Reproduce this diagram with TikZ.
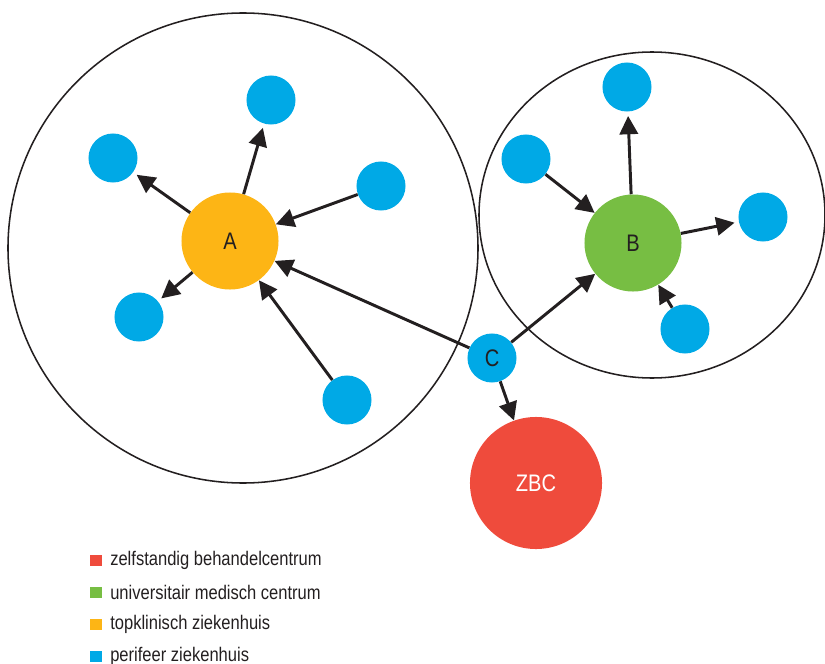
\documentclass[tikz,border=0pt]{standalone}
\usepackage{fontspec}
\setmainfont{Liberation Sans}[FakeStretch=0.84]
\usetikzlibrary{arrows.meta}
\definecolor{zbcred}{HTML}{EF4B3C}
\definecolor{umcgreen}{HTML}{77BE43}
\definecolor{toporange}{HTML}{FDB515}
\definecolor{periblue}{HTML}{00A9E6}
\definecolor{inkblack}{HTML}{231F20}

\begin{document}
\begin{tikzpicture}[x=0.025cm, y=-0.025cm,
    hosp/.style={circle, inner sep=0pt, text=inkblack, font=\fontsize{17}{20}\selectfont},
    peri/.style={hosp, fill=periblue, minimum size=1.225cm},
    topk/.style={hosp, fill=toporange, minimum size=2.425cm},
    umc/.style={hosp, fill=umcgreen, minimum size=2.425cm},
    zbc/.style={hosp, fill=zbcred, minimum size=3.3cm, text=white},
    region/.style={draw=inkblack, line width=1.1pt},
    link/.style={draw=inkblack, line width=2.1pt, -{Triangle[length=13pt,width=13pt]}},
    toperi/.style={link, shorten >=3pt},
    legkey/.style={rectangle, inner sep=0pt, minimum size=0.275cm},
    legtext/.style={anchor=west, inner sep=0pt, text=inkblack, font=\fontsize{14}{16}\selectfont}
  ]
  \useasboundingbox (0,0) rectangle (825,664);
  % regions
  \draw[region] (243,248) circle [radius=235];
  \draw[region] (652,215) ellipse [x radius=173, y radius=163];

  % hospitals
  \node[topk] (A) at (230,241) {A};
  \node[umc] (B) at (633,243) {B};
  \node[peri] (C) at (492,358) {C};
  \node[zbc] (Z) at (536,483) {ZBC};

  \node[peri] (a1) at (113,158) {};
  \node[peri] (a2) at (271,100) {};
  \node[peri] (a3) at (381,186) {};
  \node[peri] (a4) at (139,317) {};
  \node[peri] (a5) at (347,400) {};

  \node[peri] (b1) at (627,87) {};
  \node[peri] (b2) at (526,159) {};
  \node[peri] (b3) at (763,217) {};
  \node[peri] (b4) at (685,329) {};

  % referrals
  \draw[toperi] (A) -- (a1);
  \draw[toperi] (A) -- (a2);
  \draw[link] (a3) -- (A);
  \draw[toperi] (A) -- (a4);
  \draw[link] (a5) -- (A);
  \draw[link] (C) -- (A);

  \draw[toperi] (B) -- (b1);
  \draw[link] (b2) -- (B);
  \draw[toperi] (B) -- (b3);
  \draw[link] (b4) -- (B);
  \draw[link] (C) -- (B);
  \draw[link] (C) -- (Z);

  % legend
  \foreach \col/\txt [count=\i] in {zbcred/zelfstandig behandelcentrum,
      umcgreen/universitair medisch centrum, toporange/topklinisch ziekenhuis,
      periblue/perifeer ziekenhuis} {
    \node[legkey, fill=\col] (key\i) at (96,{560+32*(\i-1)}) {};
    \node[legtext] (leg\i) at (110,{560+32*(\i-1)}) {\txt};
  }
\end{tikzpicture}
\end{document}
